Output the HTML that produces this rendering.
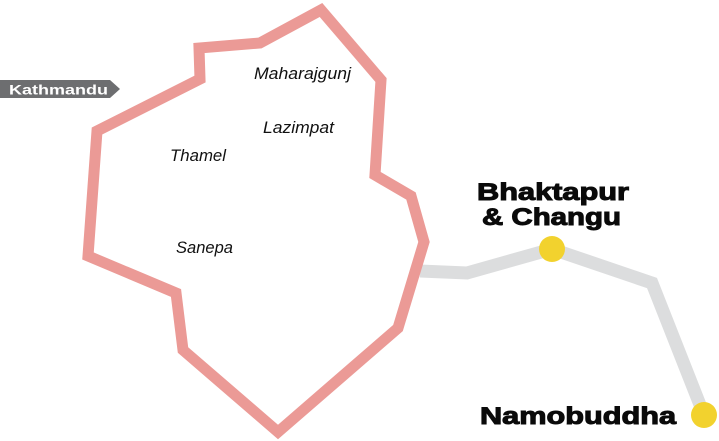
<!DOCTYPE html>
<html><head><meta charset="utf-8"><style>
html,body{margin:0;padding:0;background:#fff;}
svg{display:block;}
.it{font-family:"Liberation Sans",sans-serif;font-style:italic;font-size:17px;fill:#111;}
.bd{font-family:"Liberation Sans",sans-serif;font-weight:bold;font-size:24px;fill:#0a0a0a;stroke:#0a0a0a;stroke-width:1px;}
</style></head><body>
<svg width="719" height="441" viewBox="0 0 719 441" xmlns="http://www.w3.org/2000/svg">
<polyline points="420,271 467,273 552,249 652,283 704,415" fill="none" stroke="#dcddde" stroke-width="13" stroke-linejoin="miter"/>
<polygon points="321,10 381,80 375,175 411,196 424,242 398,328 278,432 183,350 176,293 88,256 97,131 200,79 199,48 260,43" fill="none" stroke="#eb9a96" stroke-width="11" stroke-linejoin="miter"/>
<circle cx="552" cy="249" r="13" fill="#f2d22e"/>
<circle cx="704" cy="415" r="13" fill="#f2d22e"/>
<polygon points="0,80 110,80 120,89 110,98 0,98" fill="#6d6e70"/>
<text x="9" y="94.5" font-family="Liberation Sans,sans-serif" font-weight="bold" font-size="14" fill="#fff" textLength="99" lengthAdjust="spacingAndGlyphs">Kathmandu</text>
<text class="it" x="254" y="79" textLength="97" lengthAdjust="spacingAndGlyphs">Maharajgunj</text>
<text class="it" x="263" y="133" textLength="71" lengthAdjust="spacingAndGlyphs">Lazimpat</text>
<text class="it" x="170" y="161" textLength="56" lengthAdjust="spacingAndGlyphs">Thamel</text>
<text class="it" x="176" y="253" textLength="57" lengthAdjust="spacingAndGlyphs">Sanepa</text>
<text class="bd" x="477" y="200" textLength="152" lengthAdjust="spacingAndGlyphs">Bhaktapur</text>
<text class="bd" x="482" y="225" textLength="139" lengthAdjust="spacingAndGlyphs">&amp; Changu</text>
<text class="bd" x="480" y="424" textLength="196" lengthAdjust="spacingAndGlyphs">Namobuddha</text>
</svg>
</body></html>
